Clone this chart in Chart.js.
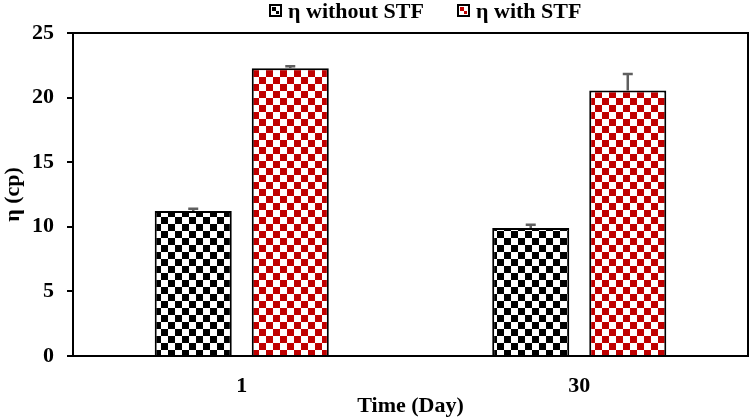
<!DOCTYPE html>
<html>
<head>
<meta charset="utf-8">
<script src="https://cdn.jsdelivr.net/npm/chart.js@4.4.1/dist/chart.umd.min.js"></script>
<style>
  html, body { margin: 0; padding: 0; background: #ffffff; }
  #wrap { width: 750px; height: 420px; position: relative; }
</style>
</head>
<body>
<div id="wrap"><canvas id="c" width="750" height="420"></canvas></div>
<script>
// ---- data ----
const categories = ['1', '30'];
const seriesNames = ['η without STF', 'η with STF'];
const withoutSTF = [11.22, 9.9];
const withSTF = [22.27, 20.55];
const errWithoutSTF = [0.18, 0.25];
const errWithSTF = [0.15, 1.28];
const yTicks = [0, 5, 10, 15, 20, 25];

const FONT = "'Liberation Serif', 'Times New Roman', serif";

function makePattern(color, size) {
  const c = document.createElement('canvas');
  c.width = size * 2; c.height = size * 2;
  const g = c.getContext('2d');
  g.fillStyle = '#ffffff';
  g.fillRect(0, 0, size * 2, size * 2);
  g.fillStyle = color;
  g.fillRect(0, 0, size, size);
  g.fillRect(size, size, size, size);
  return document.getElementById('c').getContext('2d').createPattern(c, 'repeat');
}

const colors = ['#000000', '#C00000'];
const patterns = colors.map(col => makePattern(col, 7));
const errors = [errWithoutSTF, errWithSTF];

const errorBarPlugin = {
  id: 'errorBars',
  afterDatasetsDraw(chart) {
    const ctx = chart.ctx;
    const y = chart.scales.y;
    ctx.save();
    ctx.strokeStyle = '#5f5f5f';
    ctx.lineWidth = 2.5;
    chart.data.datasets.forEach((ds, di) => {
      const meta = chart.getDatasetMeta(di);
      meta.data.forEach((bar, i) => {
        const top = y.getPixelForValue(ds.data[i] + errors[di][i]);
        ctx.beginPath();
        ctx.moveTo(bar.x, bar.y);
        ctx.lineTo(bar.x, top);
        ctx.moveTo(bar.x - 5, top);
        ctx.lineTo(bar.x + 5, top);
        ctx.stroke();
      });
    });
    ctx.restore();
  }
};

const framePlugin = {
  id: 'frame',
  afterDraw(chart) {
    const a = chart.chartArea;
    const ctx = chart.ctx;
    ctx.save();
    ctx.strokeStyle = '#000000';
    ctx.lineWidth = 2;
    ctx.strokeRect(a.left, a.top, a.right - a.left, a.bottom - a.top);
    ctx.restore();
  }
};

const legendPlugin = {
  id: 'customLegend',
  afterDraw(chart) {
    const ctx = chart.ctx;
    const boxX = [270, 458];
    ctx.save();
    ctx.font = 'bold 22px ' + FONT;
    ctx.textBaseline = 'middle';
    seriesNames.forEach((name, i) => {
      const bx = boxX[i], by = 5, bs = 11;
      ctx.fillStyle = '#ffffff';
      ctx.fillRect(bx, by, bs, bs);
      ctx.fillStyle = colors[i];
      ctx.fillRect(bx + 2, by + 2, 4, 4);
      ctx.fillRect(bx + 6, by + 6, 3, 3);
      ctx.strokeStyle = '#000000';
      ctx.lineWidth = 2;
      ctx.strokeRect(bx, by, bs, bs);
      ctx.fillStyle = '#000000';
      ctx.fillText(name, bx + 18, 12);
    });
    ctx.restore();
  }
};

new Chart(document.getElementById('c'), {
  type: 'bar',
  data: {
    labels: categories,
    datasets: [
      { label: seriesNames[0], data: withoutSTF, backgroundColor: patterns[0], borderColor: '#000000', borderWidth: 2 },
      { label: seriesNames[1], data: withSTF, backgroundColor: patterns[1], borderColor: '#000000', borderWidth: 2 }
    ]
  },
  options: {
    responsive: false,
    animation: false,
    layout: { padding: { top: 33, right: 2, left: 0, bottom: 0 } },
    datasets: { bar: { barPercentage: 0.794, categoryPercentage: 0.575 } },
    plugins: { legend: { display: false }, tooltip: { enabled: false } },
    scales: {
      x: {
        grid: { display: false },
        border: { color: '#000000', width: 2 },
        ticks: { color: '#000000', font: { family: FONT, size: 22, weight: 'bold' }, padding: 9 },
        title: { display: true, text: 'Time (Day)', color: '#000000', font: { family: FONT, size: 22, weight: 'bold' }, padding: { top: 0, bottom: 0 } },
        afterFit(s) { s.height = 64; }
      },
      y: {
        min: 0, max: 25,
        afterBuildTicks(s) { s.ticks = yTicks.map(v => ({ value: v })); },
        grid: { drawOnChartArea: false, color: '#000000', tickLength: 6, lineWidth: 2 },
        border: { color: '#000000', width: 2 },
        ticks: { color: '#000000', font: { family: FONT, size: 22, weight: 'bold' }, padding: 13 },
        title: { display: true, text: 'η (cp)', color: '#000000', font: { family: FONT, size: 22, weight: 'bold' }, padding: { top: 0, bottom: 2 } },
        afterFit(s) { s.width = 73; }
      }
    }
  },
  plugins: [errorBarPlugin, framePlugin, legendPlugin]
});
</script>
</body>
</html>
